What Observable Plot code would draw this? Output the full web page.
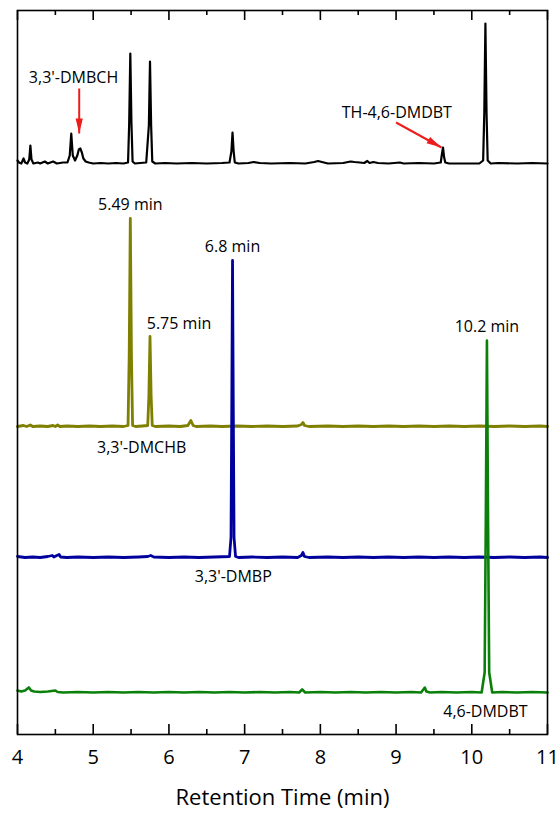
<!DOCTYPE html>
<html>
<head>
<meta charset="utf-8">
<script src="https://cdn.jsdelivr.net/npm/d3@7"></script>
<script src="https://cdn.jsdelivr.net/npm/@observablehq/plot@0.6"></script>
<style>
  html, body { margin: 0; padding: 0; background: #fff; }
  #chart svg { display: block; }
</style>
</head>
<body>
<div id="chart"></div>
<script>
// Axis ticks (retention time, min)
const xTicks = [4, 5, 6, 7, 8, 9, 10, 11];
const xMinorTicks = [4.5, 5.5, 6.5, 7.5, 8.5, 9.5, 10.5];
const xTitle = "Retention Time (min)";

// Vertical offsets of the stacked chromatograms (signal units)
const traceOffsets = [571, 308, 177, 42];

// Reaction product mixture: [time (min), signal above its baseline]
const productTrace = [
  [4.00,3],[4.02,1],[4.05,0],[4.08,5],[4.10,1],[4.13,0],[4.155,4],[4.17,18],[4.185,4],[4.21,0],
  [4.27,1],[4.30,0],[4.36,2],[4.40,0],[4.47,2],[4.52,0],[4.60,1],[4.66,1],[4.69,8],[4.71,30],
  [4.73,8],[4.76,3],[4.79,8],[4.81,14],[4.83,15],[4.85,11],[4.87,5],[4.90,2],[4.94,1],[5.00,0],
  [5.10,0.5],[5.20,0],[5.30,0.5],[5.40,0],[5.46,1],[5.475,40],[5.49,110],[5.505,40],[5.52,2],[5.55,0],
  [5.62,0.5],[5.70,1],[5.735,38],[5.75,102],[5.765,38],[5.78,2],[5.82,0],[5.95,0.5],[6.10,0],[6.30,0.5],
  [6.50,0],[6.70,0.5],[6.80,1],[6.825,12],[6.84,31],[6.855,12],[6.87,1],[6.92,0],[7.05,0.5],[7.12,1.5],
  [7.20,0.5],[7.35,0],[7.60,0.5],[7.80,0],[7.92,1.5],[7.97,2.5],[8.02,1.5],[8.10,0],[8.30,0.5],[8.40,2],
  [8.45,1.5],[8.52,1],[8.58,0.5],[8.62,2.5],[8.65,0.5],[8.70,1.5],[8.76,0.5],[8.90,0],[9.05,1],[9.10,0],
  [9.30,0.5],[9.50,0],[9.59,1],[9.605,9],[9.62,16],[9.635,6],[9.65,1],[9.70,0],[10.00,0],[10.10,0],
  [10.15,3],[10.165,50],[10.18,140],[10.195,50],[10.21,3],[10.25,0],[10.35,0.5],[10.60,0],[10.80,0.5],[11.00,0]
];

// 3,3'-DMCHB standard
const dmchbTrace = [
  [4.00,0],[4.08,1],[4.12,0],[4.17,1.5],[4.20,0],[4.30,0.5],[4.40,0],[4.47,1],[4.50,0],[4.53,1.5],
  [4.56,0],[4.65,0.5],[4.80,0],[4.95,0.5],[5.10,0],[5.25,0.5],[5.40,0],[5.46,1],[5.475,70],[5.49,208],
  [5.505,70],[5.52,1],[5.56,0],[5.65,0.5],[5.72,1],[5.735,30],[5.75,90],[5.765,30],[5.78,1],[5.82,0],
  [6.00,0.5],[6.15,0],[6.25,1],[6.29,6],[6.32,1],[6.36,0],[6.55,0.5],[6.70,0],[6.90,0.5],[7.10,0],
  [7.30,0.5],[7.50,0],[7.70,0.5],[7.75,2],[7.77,4],[7.79,1],[7.85,0],[8.10,0.5],[8.30,0],[8.50,0.5],
  [8.70,0],[8.90,0.5],[9.10,0],[9.30,0.5],[9.50,0],[9.70,0.5],[9.90,0],[10.10,0.5],[10.30,0],[10.50,0.5],
  [10.70,0],[10.90,0.5],[11.00,0]
];

// 3,3'-DMBP standard
const dmbpTrace = [
  [4.00,1],[4.10,0],[4.20,0.5],[4.30,0],[4.40,1],[4.46,2],[4.48,0.5],[4.52,2],[4.55,3],[4.57,0.5],
  [4.65,0],[4.80,0.5],[5.00,0],[5.20,0.5],[5.40,0],[5.60,0.5],[5.72,1],[5.76,2],[5.80,0.5],[6.00,0],
  [6.20,0.5],[6.40,0],[6.60,0.5],[6.80,1],[6.82,20],[6.83,150],[6.84,297],[6.85,150],[6.86,20],[6.88,1],
  [6.92,0],[7.10,0.5],[7.30,0],[7.50,0.5],[7.70,0],[7.75,2],[7.77,5],[7.79,1],[7.85,0],[8.10,0.5],
  [8.30,0],[8.50,0.5],[8.70,0],[8.90,0.5],[9.10,0],[9.30,0.5],[9.50,0],[9.70,0.5],[9.90,0],[10.10,0.5],
  [10.30,0],[10.50,0.5],[10.70,0],[10.90,0.5],[11.00,0]
];

// 4,6-DMDBT standard
const dmdbtTrace = [
  [4.00,2],[4.05,1],[4.10,2],[4.15,5],[4.18,2],[4.22,1],[4.30,0.5],[4.40,1],[4.50,2],[4.53,0.5],
  [4.60,0],[4.80,0.5],[5.00,0],[5.20,0.5],[5.40,0],[5.60,0.5],[5.80,0],[6.00,0.5],[6.20,0],[6.40,0.5],
  [6.60,0],[6.80,0.5],[7.00,0],[7.20,0.5],[7.40,0],[7.60,0.5],[7.72,0],[7.76,3],[7.80,0],[8.00,0.5],
  [8.20,0],[8.40,0.5],[8.60,0],[8.80,0.5],[9.00,0],[9.20,0.5],[9.33,0],[9.36,3],[9.38,5],[9.40,1],
  [9.45,0],[9.60,0.5],[9.80,0],[10.00,0.5],[10.13,0],[10.17,20],[10.185,170],[10.20,352],[10.215,170],[10.23,20],
  [10.27,0],[10.40,0.5],[10.60,0],[10.80,0.5],[11.00,0]
];

// Peak retention times that carry a label, with decimals shown
const peakLabels = [
  {series: 1, time: 5.49, digits: 2, shift: false},
  {series: 1, time: 5.75, digits: 2, shift: true},
  {series: 2, time: 6.84, digits: 1, shift: false},
  {series: 3, time: 10.2, digits: 1, shift: false}
];

// Compound names (time, signal)
const compoundLabels = [
  {text: "3,3'-DMBCH", time: 4.74, signal: 657},
  {text: "TH-4,6-DMDBT", time: 9.01, signal: 622},
  {text: "3,3'-DMCHB", time: 5.64, signal: 287},
  {text: "3,3'-DMBP", time: 6.85, signal: 158},
  {text: "4,6-DMDBT", time: 10.18, signal: 23}
];

// Red arrows pointing at minor product peaks (time, signal)
const arrowLinks = [
  {x1: 4.815, y1: 646, x2: 4.815, y2: 601},
  {x1: 9.0, y1: 612, x2: 9.6, y2: 587}
];

const traces = [productTrace, dmchbTrace, dmbpTrace, dmdbtTrace];
const traceColors = ["#000000", "#7f7f00", "#00009c", "#0a800a"];
const traceWidths = [2.2, 2.8, 2.8, 2.6];
const red = "#ee1d1d";

const W = 558, H = 814, mTop = 10, mBottom = 80;
const frameHeight = H - mTop - mBottom;

const series = traces.map((tr, i) =>
  tr.map(([t, v]) => ({series: i, time: t, signal: v + traceOffsets[i]}))
);

// Apex value of a labelled peak, taken from its trace
const labelRows = peakLabels.map(p => {
  const apex = series[p.series].find(d => d.time === p.time);
  return {...p, signal: apex.signal, text: `${d3.format(`.${p.digits}f`)(p.time)} min`};
});

// Narrow filled arrowhead with its tip at the anchor point, pointing down
const arrowHead = {
  draw(context, size) {
    const s = Math.sqrt(size);
    context.moveTo(0, 0);
    context.lineTo(-s * 0.24, -s);
    context.lineTo(s * 0.24, -s);
    context.closePath();
  }
};

// Inward-pointing tick marks along the bottom and top edges of the frame
const inwardTicks = (values, length, edge) =>
  Plot.ruleX(values, {
    x: d => d, stroke: "#000", strokeWidth: 1.6,
    ...(edge === "bottom" ? {insetTop: frameHeight - length} : {insetBottom: frameHeight - length})
  });

const plot = Plot.plot({
  width: W,
  height: H,
  marginLeft: 17,
  marginRight: 11,
  marginTop: mTop,
  marginBottom: mBottom,
  style: {fontFamily: "'Open Sans', Lato, sans-serif", fontSize: "16px", color: "#000", background: "#fff"},
  x: {domain: [4, 11]},
  y: {domain: [0, 724], axis: null},
  marks: [
    ...series.map((rows, i) => Plot.line(rows, {
      x: "time", y: "signal", stroke: traceColors[i], strokeWidth: traceWidths[i],
      strokeLinejoin: "round", strokeLinecap: "round"
    })),
    Plot.frame({stroke: "#000", strokeWidth: 1.6}),
    inwardTicks(xTicks, 10, "bottom"),
    inwardTicks(xMinorTicks, 5, "bottom"),
    inwardTicks(xTicks, 10, "top"),
    inwardTicks(xMinorTicks, 5, "top"),
    Plot.axisX({anchor: "bottom", ticks: xTicks, tickSize: 0, tickPadding: 15, tickFormat: "d", fontSize: 20, label: null}),
    Plot.text([xTitle], {frameAnchor: "bottom", text: d => d, dy: 63, fontSize: 22, lineAnchor: "middle"}),
    Plot.text(labelRows.filter(d => !d.shift), {x: "time", y: "signal", text: "text", dy: -14, fontSize: 16, lineAnchor: "middle"}),
    Plot.text(labelRows.filter(d => d.shift), {x: "time", y: "signal", text: "text", dx: 29, dy: -13, fontSize: 16, lineAnchor: "middle"}),
    Plot.text(compoundLabels, {x: "time", y: "signal", text: "text", fontSize: 16, lineAnchor: "middle"}),
    Plot.link(arrowLinks, {x1: "x1", y1: "y1", x2: "x2", y2: "y2", stroke: red, strokeWidth: 2}),
    Plot.dot(arrowLinks.slice(0, 1), {x: "x2", y: "y2", symbol: arrowHead, r: 8.5, fill: red, stroke: "none"}),
    Plot.dot(arrowLinks.slice(1), {x: "x2", y: "y2", symbol: arrowHead, r: 8.5, fill: red, stroke: "none", rotate: -61})
  ]
});

document.getElementById("chart").appendChild(plot);
</script>
</body>
</html>
